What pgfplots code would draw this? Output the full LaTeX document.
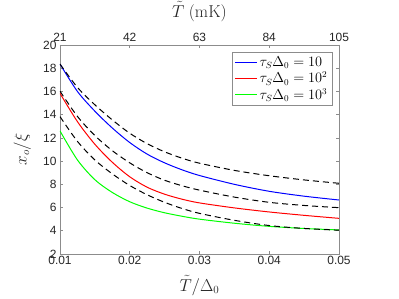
\documentclass[border=0pt]{standalone}
\usepackage[no-math]{fontspec}
\setmainfont{Liberation Sans}
\usepackage{pgfplots}
\pgfplotsset{compat=1.18}
\definecolor{axgray}{gray}{0.55}
\definecolor{txtgray}{gray}{0.15}
\definecolor{mblue}{rgb}{0,0,1}
\definecolor{mred}{rgb}{1,0,0}
\definecolor{mgreen}{rgb}{0,1,0}
\begin{document}
\begin{tikzpicture}
\begin{axis}[name=ax,
  width=279bp, height=209bp, scale only axis,
  xmin=0.01, xmax=0.05, ymin=2, ymax=20,
  scaled x ticks=false,
  xtick={0.01,0.02,0.03,0.04,0.05},
  xticklabels={0.01,0.02,0.03,0.04,0.05},
  ytick={2,4,6,8,10,12,14,16,18,20},
  yticklabels={2,4,6,8,10,12,14,16,18,20},
  xtick pos=bottom, ytick pos=both,
  tick align=inside, major tick length=3bp,
  axis line style={axgray, line width=0.6pt},
  tick style={axgray, line width=0.6pt},
  tick label style={font=\fontsize{12}{13}\selectfont, text=txtgray},
  xticklabel style={yshift=1bp},
  xlabel={$\tilde{T}/\Delta_0$},
  ylabel={$x_o/\xi$},
  label style={font=\fontsize{16}{18}\selectfont, text=txtgray},
  xlabel style={at={(axis description cs:0.5,-0.15)}, anchor=center},
  ylabel style={at={(axis description cs:-0.092,0.5)}, anchor=south},
  legend style={at={(axis description cs:0.975,0.967)}, anchor=north east,
    draw=axgray, font=\fontsize{13.5}{15}\selectfont, inner sep=2.5pt},
  legend cell align=left,
  legend image code/.code={\draw[#1] (0bp,0bp) -- (22bp,0bp);},
]
\addplot[mblue, line width=1pt, smooth] coordinates {
(0.01,18.36) (0.0125,16.0) (0.015,14.3) (0.0175,12.85) (0.02,11.6) (0.0225,10.6) (0.025,9.85) (0.0275,9.25) (0.03,8.76) (0.035,8.0) (0.04,7.40) (0.045,6.98) (0.05,6.65)};
\addlegendentry{$\tau_S\Delta_0 = 10$}
\addplot[mred, line width=1pt, smooth] coordinates {
(0.01,15.84) (0.0125,13.4) (0.015,11.45) (0.0175,9.9) (0.02,8.65) (0.0225,7.75) (0.025,7.15) (0.0275,6.72) (0.03,6.4) (0.035,5.97) (0.04,5.62) (0.045,5.33) (0.05,5.07)};
\addlegendentry{$\tau_S\Delta_0 = 10^2$}
\addplot[mgreen, line width=1pt, smooth] coordinates {
(0.01,12.6) (0.0125,10.1) (0.015,8.4) (0.0175,7.3) (0.02,6.5) (0.0225,5.95) (0.025,5.55) (0.0275,5.25) (0.03,5.0) (0.035,4.65) (0.04,4.38) (0.045,4.2) (0.05,4.07)};
\addlegendentry{$\tau_S\Delta_0 = 10^3$}
\addplot[black, line width=1pt, dash pattern=on 6bp off 4bp, smooth, forget plot] coordinates {
(0.01,18.36) (0.0125,16.35) (0.015,14.85) (0.0175,13.55) (0.02,12.4) (0.0225,11.5) (0.025,10.8) (0.0275,10.25) (0.03,9.82) (0.035,9.2) (0.04,8.74) (0.045,8.38) (0.05,8.09)};
\addplot[black, line width=1pt, dash pattern=on 6bp off 4bp, smooth, forget plot] coordinates {
(0.01,16.02) (0.0125,13.85) (0.015,12.2) (0.0175,10.9) (0.02,9.85) (0.0225,9.0) (0.025,8.35) (0.0275,7.88) (0.03,7.5) (0.035,6.9) (0.04,6.45) (0.045,6.18) (0.05,5.99)};
\addplot[black, line width=1pt, dash pattern=on 6bp off 4bp, smooth, forget plot] coordinates {
(0.01,13.83) (0.0125,11.7) (0.015,10.1) (0.0175,8.9) (0.02,7.9) (0.0225,7.1) (0.025,6.45) (0.0275,5.92) (0.03,5.5) (0.035,4.9) (0.04,4.45) (0.045,4.2) (0.05,4.05)};
\end{axis}
\begin{axis}[
  width=279bp, height=209bp, scale only axis,
  xmin=21, xmax=105, ymin=0, ymax=1,
  axis x line*=top, axis y line=none,
  xtick={21,42,63,84,105},
  xticklabels={21,42,63,84,105},
  tick align=inside, major tick length=3bp,
  axis line style={axgray, line width=0.6pt},
  tick style={axgray, line width=0.6pt},
  tick label style={font=\fontsize{12}{13}\selectfont, text=txtgray},
  xlabel={$\tilde{T}\ (\mathrm{mK})$},
  label style={font=\fontsize{16}{18}\selectfont, text=txtgray},
  xlabel style={at={(axis description cs:0.5,1.16)}, anchor=center},
]
\addplot[draw=none] coordinates {(21,0)};
\end{axis}
\pgfresetboundingbox
\path[use as bounding box] ([xshift=-60bp,yshift=-45bp]ax.south west) rectangle ([xshift=60bp,yshift=45bp]ax.north east);
\end{tikzpicture}
\end{document}
